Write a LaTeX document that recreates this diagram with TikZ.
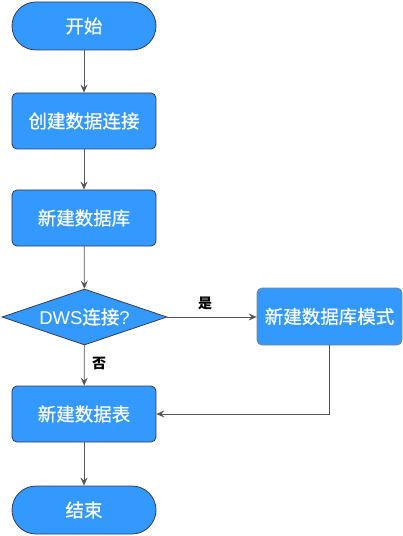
\documentclass[tikz,border=0pt]{standalone}
\usepackage{fontspec}
\newfontfamily\cjk{Noto Sans CJK SC}
\newfontfamily\cjkmid[FakeBold=0.6]{Noto Sans CJK SC}
\newfontfamily\latin{Liberation Sans}
\usetikzlibrary{shapes.geometric,arrows.meta}
\definecolor{boxblue}{HTML}{3399FF}
\definecolor{boxline}{HTML}{3A3A4A}
\definecolor{flowline}{HTML}{555555}
\tikzset{
  terminal/.style={rectangle,rounded corners=24bp,draw=boxline,line width=0.8bp,fill=boxblue,
    minimum width=144bp,minimum height=48bp,inner sep=0pt,text=white,font=\cjkmid\fontsize{18.5bp}{20bp}\selectfont},
  process/.style={rectangle,rounded corners=5bp,draw=boxline,line width=0.8bp,fill=boxblue,
    minimum width=144bp,minimum height=56bp,inner sep=0pt,text=white,font=\cjkmid\fontsize{18.5bp}{20bp}\selectfont},
  decision/.style={diamond,aspect=2.95,draw=boxline,line width=0.8bp,fill=boxblue,
    minimum width=165bp,minimum height=56bp,inner sep=0pt,text=white,font=\cjkmid\fontsize{18.5bp}{20bp}\selectfont},
  flow/.style={draw=flowline,line width=0.8bp,-{Stealth[length=8bp,width=7bp,inset=3bp]}},
  branch/.style={font=\cjk\bfseries\fontsize{14bp}{16bp}\selectfont,text=black}
}
\begin{document}
\begin{tikzpicture}[x=1bp,y=-1bp]

  \useasboundingbox (0,0) rectangle (402,536);

  \node (start) at (84,26) [terminal] {开始};
  \node (conn) at (84,121) [process] {创建数据连接};
  \node (db) at (84,218) [process] {新建数据库};
  \node (dws) at (84.5,317) [decision] {{\latin DWS}连接{\latin ?}};
  \node (schema) at (329.5,316.5) [process,draw=gray,minimum width=145bp,minimum height=57bp] {新建数据库模式};
  \node (table) at (84,414) [process] {新建数据表};
  \node (stop) at (84,510) [terminal] {结束};

  \draw[flow] (start) -- (conn);
  \draw[flow] (conn) -- (db);
  \draw[flow] (db) -- (dws);
  \draw[flow] (dws.east) -- (schema.west |- dws.east);
  \draw[flow] (dws) -- (table);
  \draw[flow] (schema.south) |- (table.east);
  \draw[flow] (table) -- (stop);

  \node (yes) at (205,303) [branch] {是};
  \node (no) at (99,363) [branch] {否};

\end{tikzpicture}
\end{document}
